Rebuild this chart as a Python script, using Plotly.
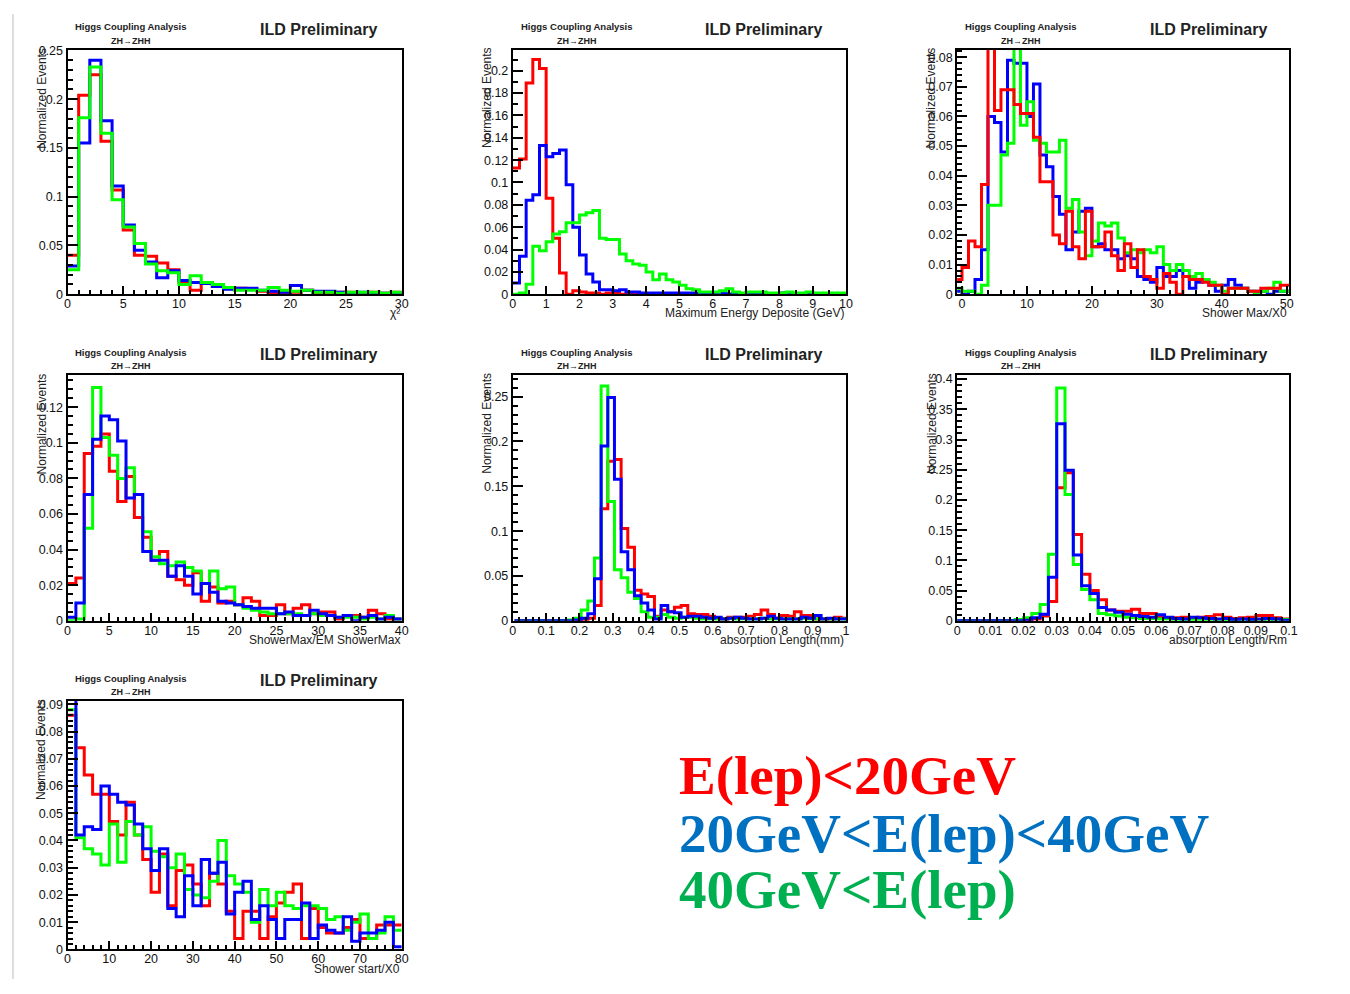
import numpy as np
import plotly.graph_objects as go

# page is 1350x994; the browser body keeps its default 8px margin,
# so the figure itself is drawn 16px smaller and page coords are shifted by 8.
PAGE_W, PAGE_H, OFF = 1350, 994, 8
FW, FH = PAGE_W - 2 * OFF, PAGE_H - 2 * OFF

# ---------------- data (normalized bin contents) ----------------
# Panel 1: chi^2, 30 bins in [0, 30]
chi2_red = [0.040, 0.204, 0.225, 0.157, 0.107, 0.066, 0.040, 0.039, 0.032, 0.025,
            0.012, 0.004, 0.012, 0.008, 0.007, 0.006, 0.005, 0.003, 0.001, 0.001,
            0.002, 0.004, 0.001, 0.001, 0.002, 0.002, 0.001, 0.002, 0.001, 0.002]
chi2_blue = [0.029, 0.155, 0.240, 0.178, 0.111, 0.071, 0.045, 0.033, 0.017, 0.024,
             0.014, 0.012, 0.011, 0.008, 0.005, 0.006, 0.006, 0.004, 0.003, 0.002,
             0.009, 0.004, 0.003, 0.003, 0.002, 0.001, 0.002, 0.001, 0.001, 0.001]
chi2_green = [0.025, 0.181, 0.233, 0.165, 0.097, 0.069, 0.052, 0.031, 0.024, 0.022,
              0.010, 0.019, 0.012, 0.010, 0.007, 0.004, 0.004, 0.004, 0.007, 0.004,
              0.003, 0.004, 0.002, 0.002, 0.001, 0.002, 0.002, 0.002, 0.001, 0.002]

# Panel 2: maximum energy deposit (GeV), 50 bins in [0, 10]
emax_red = [0.113, 0.121, 0.189, 0.210, 0.202, 0.086, 0.050, 0.019, 0.000, 0.003,
            0.002, 0.001, 0.001, 0.000, 0.001, 0.001, 0.000, 0.001, 0.000, 0.000,
            0.000, 0.000, 0.000, 0.000, 0.000, 0.000, 0.000, 0.000, 0.000, 0.000,
            0.000, 0.000, 0.000, 0.000, 0.000, 0.000, 0.000, 0.000, 0.000, 0.000,
            0.000, 0.000, 0.000, 0.000, 0.000, 0.000, 0.000, 0.000, 0.000, 0.000]
emax_blue = [0.010, 0.034, 0.084, 0.089, 0.133, 0.123, 0.126, 0.129, 0.098, 0.060,
             0.035, 0.018, 0.011, 0.004, 0.004, 0.003, 0.004, 0.002, 0.002, 0.001,
             0.001, 0.001, 0.001, 0.001, 0.001, 0.001, 0.001, 0.001, 0.001, 0.001,
             0.000, 0.001, 0.000, 0.001, 0.000, 0.000, 0.001, 0.000, 0.000, 0.000,
             0.001, 0.000, 0.000, 0.000, 0.001, 0.000, 0.000, 0.000, 0.000, 0.000]
emax_green = [0.000, 0.001, 0.009, 0.043, 0.039, 0.047, 0.054, 0.056, 0.064, 0.064,
              0.071, 0.073, 0.075, 0.050, 0.049, 0.049, 0.036, 0.030, 0.027, 0.026,
              0.020, 0.013, 0.018, 0.013, 0.011, 0.008, 0.005, 0.004, 0.002, 0.002,
              0.002, 0.003, 0.005, 0.002, 0.001, 0.002, 0.002, 0.002, 0.001, 0.001,
              0.001, 0.002, 0.001, 0.001, 0.002, 0.001, 0.001, 0.001, 0.001, 0.001]

# Panel 3: shower max / X0, unit bins from -1 to 51
smax_red = [0.005, 0.009, 0.018, 0.016, 0.037, 0.090, 0.062, 0.069, 0.069, 0.064,
            0.061, 0.061, 0.053, 0.038, 0.038, 0.020, 0.017, 0.028, 0.016, 0.012,
            0.028, 0.016, 0.016, 0.021, 0.013, 0.008, 0.017, 0.009, 0.015, 0.006,
            0.005, 0.002, 0.007, 0.004, 0.000, 0.006, 0.005, 0.005, 0.004, 0.003,
            0.003, 0.000, 0.002, 0.002, 0.002, 0.001, 0.001, 0.002, 0.002, 0.002,
            0.003, 0.003]
smax_blue = [0.001, 0.000, 0.001, 0.005, 0.015, 0.060, 0.058, 0.048, 0.079, 0.078,
             0.078, 0.060, 0.071, 0.047, 0.043, 0.033, 0.027, 0.015, 0.021, 0.028,
             0.029, 0.016, 0.017, 0.015, 0.015, 0.012, 0.013, 0.012, 0.006, 0.005,
             0.004, 0.009, 0.006, 0.006, 0.008, 0.006, 0.002, 0.004, 0.005, 0.003,
             0.001, 0.003, 0.005, 0.003, 0.002, 0.001, 0.001, 0.001, 0.000, 0.001,
             0.001, 0.001]
smax_green = [0.002, 0.001, 0.001, 0.000, 0.003, 0.030, 0.030, 0.047, 0.051, 0.090,
              0.057, 0.065, 0.052, 0.051, 0.048, 0.048, 0.052, 0.029, 0.032, 0.021,
              0.013, 0.018, 0.024, 0.023, 0.024, 0.019, 0.014, 0.015, 0.014, 0.015,
              0.014, 0.016, 0.010, 0.008, 0.010, 0.008, 0.006, 0.007, 0.005, 0.004,
              0.003, 0.001, 0.002, 0.002, 0.002, 0.001, 0.000, 0.001, 0.002, 0.004,
              0.001, 0.001]

# Panel 4: ShowerMax / EM ShowerMax, 40 bins in [0, 40]
ratio_red = [0.021, 0.024, 0.094, 0.098, 0.105, 0.084, 0.067, 0.081, 0.058, 0.047,
             0.034, 0.039, 0.025, 0.023, 0.020, 0.027, 0.011, 0.019, 0.010, 0.011,
             0.009, 0.013, 0.011, 0.003, 0.003, 0.009, 0.004, 0.007, 0.009, 0.004,
             0.005, 0.005, 0.001, 0.003, 0.003, 0.002, 0.006, 0.004, 0.001, 0.001]
ratio_green = [0.000, 0.001, 0.052, 0.131, 0.103, 0.093, 0.080, 0.086, 0.071, 0.050,
               0.036, 0.032, 0.031, 0.033, 0.030, 0.028, 0.021, 0.028, 0.018, 0.019,
               0.009, 0.007, 0.006, 0.005, 0.004, 0.004, 0.004, 0.004, 0.003, 0.004,
               0.003, 0.003, 0.002, 0.002, 0.002, 0.001, 0.002, 0.001, 0.003, 0.001]
ratio_blue = [0.002, 0.010, 0.071, 0.102, 0.115, 0.113, 0.101, 0.069, 0.071, 0.039,
              0.034, 0.034, 0.025, 0.031, 0.025, 0.015, 0.021, 0.016, 0.011, 0.010,
              0.009, 0.008, 0.007, 0.007, 0.007, 0.004, 0.005, 0.003, 0.003, 0.006,
              0.004, 0.003, 0.002, 0.003, 0.000, 0.002, 0.003, 0.001, 0.002, 0.001]

# Panel 5: absorption length (mm), 50 bins of 0.02 starting at 0.005
abs_red = [0.000, 0.000, 0.000, 0.000, 0.000, 0.000, 0.000, 0.000, 0.000, 0.000,
           0.000, 0.003, 0.017, 0.125, 0.178, 0.180, 0.103, 0.082, 0.034, 0.030,
           0.027, 0.005, 0.012, 0.010, 0.015, 0.017, 0.008, 0.007, 0.007, 0.005,
           0.003, 0.002, 0.004, 0.004, 0.004, 0.005, 0.007, 0.012, 0.007, 0.003,
           0.006, 0.005, 0.010, 0.006, 0.006, 0.002, 0.002, 0.002, 0.004, 0.003]
abs_green = [0.000, 0.000, 0.000, 0.000, 0.000, 0.000, 0.000, 0.000, 0.001, 0.003,
             0.012, 0.022, 0.070, 0.262, 0.133, 0.057, 0.048, 0.032, 0.025, 0.010,
             0.004, 0.004, 0.007, 0.004, 0.003, 0.004, 0.004, 0.003, 0.002, 0.002,
             0.002, 0.002, 0.003, 0.002, 0.002, 0.002, 0.002, 0.003, 0.002, 0.002,
             0.002, 0.002, 0.002, 0.003, 0.002, 0.002, 0.002, 0.002, 0.002, 0.002]
abs_blue = [0.000, 0.000, 0.000, 0.000, 0.000, 0.000, 0.000, 0.000, 0.000, 0.001,
            0.003, 0.008, 0.047, 0.195, 0.249, 0.158, 0.077, 0.057, 0.028, 0.020,
            0.012, 0.002, 0.017, 0.010, 0.009, 0.004, 0.005, 0.005, 0.004, 0.003,
            0.004, 0.002, 0.003, 0.004, 0.003, 0.002, 0.002, 0.003, 0.005, 0.003,
            0.002, 0.002, 0.002, 0.004, 0.003, 0.006, 0.002, 0.003, 0.002, 0.002]

# Panel 6: absorption length / Rm, 40 bins in [0, 0.1]
absrm_red = [0.000, 0.000, 0.000, 0.000, 0.000, 0.000, 0.000, 0.000, 0.001, 0.003,
             0.008, 0.032, 0.220, 0.245, 0.143, 0.077, 0.050, 0.035, 0.018, 0.016,
             0.016, 0.019, 0.012, 0.012, 0.007, 0.005, 0.005, 0.006, 0.005, 0.006,
             0.007, 0.010, 0.006, 0.004, 0.005, 0.006, 0.009, 0.009, 0.005, 0.003]
absrm_green = [0.000, 0.000, 0.000, 0.000, 0.000, 0.000, 0.000, 0.002, 0.005, 0.012,
               0.027, 0.110, 0.385, 0.209, 0.093, 0.052, 0.035, 0.012, 0.010, 0.008,
               0.006, 0.005, 0.004, 0.004, 0.003, 0.003, 0.002, 0.002, 0.002, 0.002,
               0.002, 0.002, 0.002, 0.002, 0.002, 0.002, 0.002, 0.002, 0.002, 0.002]
absrm_blue = [0.000, 0.000, 0.000, 0.000, 0.000, 0.000, 0.000, 0.000, 0.001, 0.005,
              0.011, 0.072, 0.326, 0.249, 0.109, 0.058, 0.045, 0.022, 0.018, 0.014,
              0.011, 0.009, 0.007, 0.006, 0.010, 0.006, 0.004, 0.003, 0.006, 0.005,
              0.004, 0.003, 0.004, 0.002, 0.003, 0.002, 0.003, 0.004, 0.003, 0.001]

# Panel 7: shower start / X0, 40 bins in [0, 80]
sstart_red = [0.086, 0.074, 0.064, 0.057, 0.057, 0.047, 0.042, 0.054, 0.042, 0.033,
              0.021, 0.035, 0.016, 0.029, 0.031, 0.024, 0.016, 0.028, 0.024, 0.014,
              0.004, 0.014, 0.014, 0.004, 0.012, 0.017, 0.021, 0.024, 0.004, 0.015,
              0.008, 0.006, 0.006, 0.008, 0.011, 0.004, 0.004, 0.009, 0.009, 0.009]
sstart_green = [0.088, 0.041, 0.037, 0.035, 0.031, 0.046, 0.032, 0.047, 0.042, 0.045,
                0.036, 0.034, 0.030, 0.035, 0.022, 0.020, 0.019, 0.025, 0.040, 0.027,
                0.024, 0.021, 0.010, 0.022, 0.016, 0.021, 0.016, 0.015, 0.016, 0.016,
                0.015, 0.011, 0.012, 0.007, 0.010, 0.013, 0.004, 0.006, 0.012, 0.007]
sstart_blue = [0.095, 0.042, 0.045, 0.044, 0.060, 0.057, 0.054, 0.053, 0.046, 0.037,
               0.029, 0.037, 0.015, 0.012, 0.027, 0.016, 0.033, 0.028, 0.032, 0.013,
               0.021, 0.025, 0.011, 0.016, 0.011, 0.004, 0.011, 0.011, 0.017, 0.004,
               0.009, 0.007, 0.006, 0.012, 0.003, 0.006, 0.006, 0.007, 0.010, 0.001]

legend_labels = ["E(lep)<20GeV", "20GeV<E(lep)<40GeV", "40GeV<E(lep)"]
x_titles = ["χ²", "Maximum Energy Deposite (GeV)", "Shower Max/X0",
            "ShowerMax/EM ShowerMax", "absorption Length(mm)", "absorption Length/Rm",
            "Shower start/X0"]
y_title = "Normalized Events"

# ---------------- styling / layout ----------------
LINE = {"red": "#ff0000", "blue": "#0000ff", "green": "#00ff00"}
TEXT_COL = {"red": "#ff0000", "blue": "#0070c0", "green": "#00b050"}
SANS = "Liberation Sans, Arial, Helvetica, sans-serif"
SERIF = "Liberation Serif, Times New Roman, serif"

panels = [
    dict(box=(65, 44, 402, 292), bins=(0, 1.0, 30),
         series=[("red", chi2_red), ("blue", chi2_blue), ("green", chi2_green)],
         xr=[0, 30], yr=[0, 0.251], xd=5, xm=1, yd=0.05, ym=0.01),
    dict(box=(514, 44, 850, 292), bins=(0, 0.2, 50),
         series=[("red", emax_red), ("blue", emax_blue), ("green", emax_green)],
         xr=[0, 10], yr=[0, 0.219], xd=1, xm=0.5, yd=0.02, ym=0.01),
    dict(box=(962, 44, 1297, 292), bins=(-1, 1.0, 52),
         series=[("blue", smax_blue), ("green", smax_green), ("red", smax_red)],
         xr=[-0.75, 50.4], yr=[0, 0.0826], xd=10, xm=2, yd=0.01, ym=0.002),
    dict(box=(65, 374, 402, 623), bins=(0, 1.0, 40),
         series=[("red", ratio_red), ("green", ratio_green), ("blue", ratio_blue)],
         xr=[0, 40], yr=[0, 0.138], xd=5, xm=1, yd=0.02, ym=0.005),
    dict(box=(514, 374, 850, 623), bins=(0.005, 0.02, 50),
         series=[("red", abs_red), ("green", abs_green), ("blue", abs_blue)],
         xr=[0, 1.0], yr=[0, 0.274], xd=0.1, xm=0.02, yd=0.05, ym=0.01),
    dict(box=(962, 374, 1297, 623), bins=(0, 0.0025, 40),
         series=[("red", absrm_red), ("green", absrm_green), ("blue", absrm_blue)],
         xr=[0, 0.1001], yr=[0, 0.4065], xd=0.01, xm=0.002, yd=0.05, ym=0.01),
    dict(box=(65, 704, 402, 956), bins=(0, 2.0, 40),
         series=[("red", sstart_red), ("green", sstart_green), ("blue", sstart_blue)],
         xr=[0, 80], yr=[0, 0.0913], xd=10, xm=2, yd=0.01, ym=0.002),
]


def fx(px):
    return (px - OFF) / FW


def fy(py):
    return 1 - (py - OFF) / FH


fig = go.Figure()
annotations = []
layout_axes = {}

for i, p in enumerate(panels, start=1):
    x0, y0, x1, y1 = p["box"]
    start, width, n = p["bins"]
    edges = start + width * np.arange(n + 1)
    for col, vals in p["series"]:
        yv = list(vals) + [vals[-1]]
        fig.add_trace(go.Scatter(
            x=edges, y=yv, mode="lines", line=dict(color=LINE[col], width=3, shape="hv"),
            xaxis=f"x{i}", yaxis=f"y{i}", showlegend=False, hoverinfo="skip"))
    common = dict(showline=True, linecolor="black", linewidth=2, mirror=True,
                  ticks="inside", tickcolor="black", tickwidth=1.5, showgrid=False,
                  zeroline=False, tickfont=dict(family=SANS, size=12.5, color="#111"))
    layout_axes[f"xaxis{i}"] = dict(
        domain=[fx(x0), fx(x1)], anchor=f"y{i}", range=p["xr"], dtick=p["xd"], tick0=0,
        ticklen=8, ticklabelstandoff=-3,
        minor=dict(ticks="inside", ticklen=4, dtick=p["xm"], tickcolor="black"),
        **common)
    layout_axes[f"yaxis{i}"] = dict(
        domain=[fy(y1), fy(y0)], anchor=f"x{i}", range=p["yr"], dtick=p["yd"], tick0=0,
        ticklen=10, minor=dict(ticks="inside", ticklen=5, dtick=p["ym"], tickcolor="black"),
        **common)

    # headers
    annotations.append(dict(x=fx(x0 + 64.5), y=fy(y0 - 23), text="Higgs Coupling Analysis",
                            font=dict(family=SANS, size=9.5, color="#222", weight="bold"),
                            xanchor="center", yanchor="middle"))
    annotations.append(dict(x=fx(x0 + 64.5), y=fy(y0 - 9), text="ZH→ZHH",
                            font=dict(family=SANS, size=9, color="#222", weight="bold"),
                            xanchor="center", yanchor="middle"))
    annotations.append(dict(x=fx(x0 + 253), y=fy(y0 - 20.5), text="ILD Preliminary",
                            font=dict(family=SANS, size=16, color="#222", weight="bold"),
                            xanchor="center", yanchor="middle"))
    # axis titles
    annotations.append(dict(x=fx(x1), y=fy(y1 + 19.5), text=x_titles[i - 1],
                            font=dict(family=SANS, size=12, color="#222"),
                            xanchor="right", yanchor="middle"))
    annotations.append(dict(x=fx(x0 - 26), y=fy(y0 - 4), text=y_title, textangle=-90,
                            font=dict(family=SANS, size=12, color="#222"),
                            xanchor="center", yanchor="top"))

# legend text block
for label, col, base in zip(legend_labels, ["red", "blue", "green"], [780, 838.5, 895]):
    annotations.append(dict(x=fx(680), y=fy(base), text=label,
                            font=dict(family=SERIF, size=55, color=TEXT_COL[col], weight="bold"),
                            xanchor="left", yanchor="middle"))

for a in annotations:
    a.update(xref="paper", yref="paper", showarrow=False)

shapes = [
    dict(type="line", xref="paper", yref="paper", x0=fx(10), x1=fx(10), y0=1, y1=0,
         line=dict(color="#bbbbbb", width=1)),
]

fig.update_layout(width=FW, height=FH, margin=dict(l=0, r=0, t=0, b=0),
                  paper_bgcolor="white", plot_bgcolor="white",
                  annotations=annotations, shapes=shapes, **layout_axes)

fig.write_html("out.html", config={"displayModeBar": False})
